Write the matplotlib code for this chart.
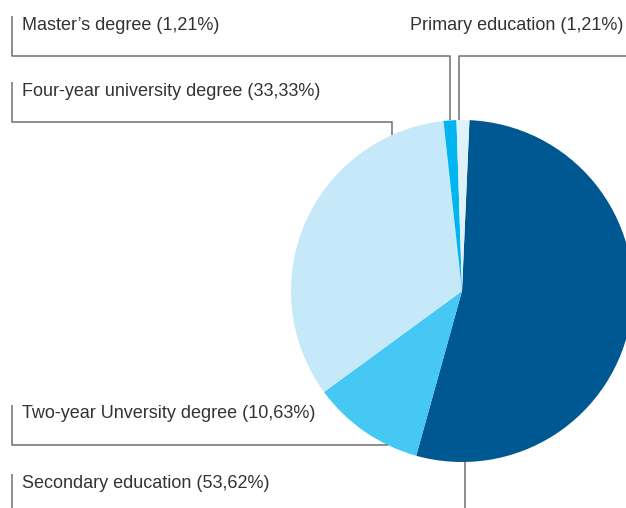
import numpy as np
import matplotlib
matplotlib.use('Agg')
from matplotlib import pyplot as plt

# education levels, clockwise from the top
labels = ['Secondary education', 'Two-year Unversity degree', 'Four-year university degree',
          "Master\u2019s degree", 'Primary education']
shares = [53.62, 10.63, 33.33, 1.21, 1.21]
colors = ['#005892', '#45c8f3', '#c6e9f9', '#00b5f0', '#dff2fc']

W, H = 626, 508
CX, CY, R = 462, 291, 171   # pie centre / radius in pixels (y measured from top)
LINE = '#6f6f6f'
TEXT = '#333333'

plt.rcParams['font.family'] = ['Liberation Sans', 'DejaVu Sans']

def fy(y):
	"""pixel row -> data y"""
	return H - y

def rim_y(x, top=True):
	"""row where a vertical line at x meets the pie edge"""
	d = np.sqrt(R**2 - (x - CX)**2)
	return CY - d if top else CY + d

def rim_x(y):
	"""column where a horizontal line at y meets the left pie edge"""
	return CX - np.sqrt(R**2 - (y - CY)**2)

def leader(xs, ys):
	plt.plot(xs, [fy(v) for v in ys], color=LINE, lw=1.1, solid_capstyle='butt', clip_on=False)

def label(i, x, y, ha='left'):
	plt.text(x, fy(y), '%s (%s%%)' % (labels[i], ('%.2f' % shares[i]).replace('.', ',')),
			 ha=ha, va='center', fontsize=13, color=TEXT)

fig = plt.figure(figsize=(W/100, H/100), dpi=100)
ax = fig.add_axes([0, 0, 1, 1])
ax.pie(shares, colors=colors, startangle=87.5, counterclock=False,
	   center=(CX, fy(CY)), radius=R, wedgeprops={'linewidth': 0})
ax.set_xlim(0, W)
ax.set_ylim(0, H)
ax.set_aspect('equal')
ax.axis('off')

# Master's degree
label(3, 22, 25)
leader([12, 12, 450, 450], [16, 56, 56, rim_y(450)])
# Primary education
label(4, 623, 25, ha='right')
leader([W + 5, 459, 459], [56, 56, rim_y(459)])
# Four-year university degree
label(2, 22, 91)
leader([12, 12, 392, 392], [82, 122, 122, rim_y(392)])
# Two-year university degree
label(1, 22, 414)
leader([12, 12, rim_x(445)], [405, 445, 445])
# Secondary education
label(0, 22, 483)
leader([12, 12], [474, H + 5])
leader([465, 465], [rim_y(465, top=False), H + 5])

fig.savefig('out.png', dpi=100)
